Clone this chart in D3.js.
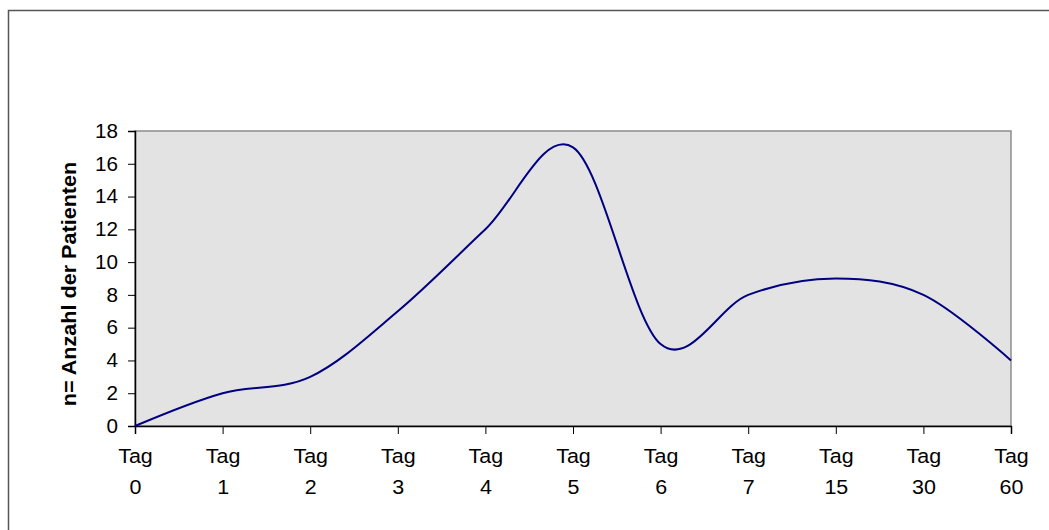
<!DOCTYPE html>
<html><head><meta charset="utf-8">
<script src="https://cdn.jsdelivr.net/npm/d3@7"></script>
<style>
body{margin:0;background:#fff;}
svg{display:block;font-family:"Liberation Sans",Arial,sans-serif;}
</style></head>
<body>
<svg id="c" width="1049" height="530"></svg>
<script>
const categories = ["Tag 0","Tag 1","Tag 2","Tag 3","Tag 4","Tag 5","Tag 6","Tag 7","Tag 15","Tag 30","Tag 60"];
const values = [0, 2, 3, 7, 12, 17, 5, 8, 9, 8, 4];
const yTicks = [0, 2, 4, 6, 8, 10, 12, 14, 16, 18];
const yLabel = "n= Anzahl der Patienten";

const svg = d3.select("#c");
const L = 135, R = 1011, T = 131, B = 426;
const FS = 19.5, SXY = 1.06, SXX = 1.10;
const FONT = "Liberation Sans, Arial, sans-serif";

svg.append("rect").attr("x", 8.5).attr("y", 10.5).attr("width", 1060).attr("height", 540)
  .attr("fill", "none").attr("stroke", "#555").attr("stroke-width", 1.5);

const x = d3.scalePoint().domain(categories).range([L, R]);
const y = d3.scaleLinear().domain([0, 18]).range([B, T]);

svg.append("rect").attr("x", L).attr("y", T).attr("width", R - L).attr("height", B - T)
  .attr("fill", "#e3e3e3").attr("stroke", "#8c8c8c").attr("stroke-width", 1.5);

const yAxis = svg.append("g").attr("transform", `translate(${L},0)`)
  .call(d3.axisLeft(y).tickValues(yTicks).tickSize(7).tickPadding(10).tickFormat(d3.format("d")));
yAxis.select(".domain").attr("stroke", "#000").attr("stroke-width", 1.5);
yAxis.selectAll("line").attr("stroke", "#000");
yAxis.selectAll("text").attr("font-size", FS).attr("fill", "#000").attr("font-family", FONT)
  .attr("x", -17 / SXY).attr("transform", `scale(${SXY},1)`);

const xAxis = svg.append("g").attr("transform", `translate(0,${B})`)
  .call(d3.axisBottom(x).tickSize(8).tickFormat(""));
xAxis.select(".domain").attr("stroke", "#000").attr("stroke-width", 1.5);
xAxis.selectAll("line").attr("stroke", "#000");
xAxis.selectAll(".tick").each(function(d) {
  const parts = d.split(" ");
  const g = d3.select(this);
  g.append("text").attr("y", 37).attr("text-anchor", "middle").attr("font-size", FS)
    .attr("transform", `scale(${SXX},1)`)
    .attr("fill", "#000").attr("font-family", FONT).text(parts[0]);
  g.append("text").attr("y", 68).attr("text-anchor", "middle").attr("font-size", FS)
    .attr("transform", `scale(${SXX},1)`)
    .attr("fill", "#000").attr("font-family", FONT).text(parts[1]);
});

const line = d3.line().x((d, i) => x(categories[i])).y(d => y(d)).curve(d3.curveCardinal.tension(0));
svg.append("path").datum(values).attr("d", line).attr("fill", "none")
  .attr("stroke", "#000080").attr("stroke-width", 2);

svg.append("text").attr("transform", `translate(76,284) rotate(-90) scale(1.08,1)`)
  .attr("text-anchor", "middle").attr("font-size", 20).attr("font-weight", "bold")
  .attr("fill", "#000").attr("font-family", FONT).text(yLabel);
</script>
</body></html>
